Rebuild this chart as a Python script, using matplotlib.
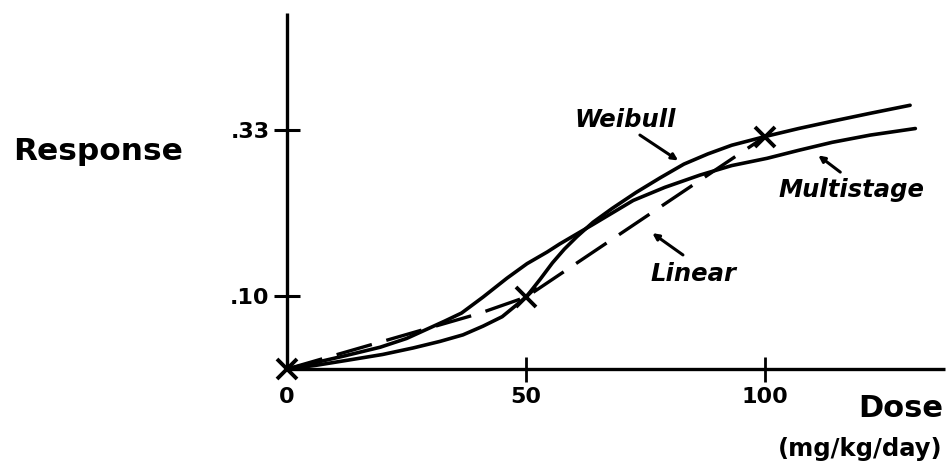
import numpy as np
import matplotlib
matplotlib.use("Agg")
import matplotlib.pyplot as plt

plt.rcParams['font.family'] = ['DejaVu Sans']
plt.rcParams['font.weight'] = 'bold'

# observed dose / response points
obs_dose = [0, 50, 100]
obs_resp = [0, 0.099, 0.32]

# linear model (dashed)
lin_dose = [0, 40, 50, 100]
lin_resp = [0, 0.076, 0.099, 0.32]

# Weibull model
wei_dose = [0, 6, 12.6, 20, 26.4, 32, 36.8, 41, 45, 50, 53, 55.5, 58, 60.6, 64,
            68, 73, 78, 83, 88, 93, 100, 107, 114, 122, 130.3]
wei_resp = [0, 0.005, 0.012, 0.020, 0.029, 0.038, 0.047, 0.059, 0.072, 0.099,
            0.124, 0.146, 0.165, 0.182, 0.202, 0.221, 0.243, 0.263, 0.282,
            0.296, 0.308, 0.32, 0.331, 0.341, 0.352, 0.363]

# multistage model
mul_dose = [0, 5.4, 12, 19.5, 25, 30, 33, 36.5, 41, 46, 50.2, 54.4, 57, 64,
            72.4, 79, 86.4, 93, 100.4, 107, 114, 122, 131.4]
mul_resp = [0, 0.008, 0.018, 0.030, 0.042, 0.057, 0.066, 0.077, 0.099, 0.125,
            0.145, 0.161, 0.172, 0.199, 0.232, 0.250, 0.267, 0.280, 0.290,
            0.301, 0.312, 0.322, 0.331]

x_ticks = [0, 50, 100]
x_ticklabels = ['0', '50', '100']
y_ticks = [0.10, 0.329]
y_ticklabels = ['.10', '.33']

fig = plt.figure(figsize=(9.51, 4.66), dpi=100)
ax = fig.add_axes([287 / 951, 1 - 369 / 466, (945 - 287) / 951, (369 - 13) / 466])
ax.set_xlim(0, 137.6)
ax.set_ylim(0, 0.49)

ax.plot(wei_dose, wei_resp, color='black', lw=2.6, clip_on=False,
        solid_capstyle='round', solid_joinstyle='round')
ax.plot(mul_dose, mul_resp, color='black', lw=2.6, clip_on=False,
        solid_capstyle='round', solid_joinstyle='round')
ax.plot(lin_dose, lin_resp, color='black', lw=2.4, linestyle=(0, (11, 4.5)),
        clip_on=False)
ax.plot(obs_dose, obs_resp, linestyle='none', marker='x', color='black',
        ms=14, mew=2.8, clip_on=False, zorder=5)

for side in ['top', 'right']:
    ax.spines[side].set_visible(False)
for side in ['left', 'bottom']:
    ax.spines[side].set_linewidth(2.4)
    ax.spines[side].set_capstyle('butt')

ax.set_xticks(x_ticks)
ax.set_xticklabels(x_ticklabels, fontsize=16, fontweight='bold')
ax.set_yticks(y_ticks)
ax.set_yticklabels(y_ticklabels, fontsize=16, fontweight='bold')
ax.tick_params(axis='x', direction='inout', length=18, width=2, pad=4)
ax.tick_params(axis='y', direction='inout', length=19, width=2.2, pad=3)
ax.xaxis.get_major_ticks()[0].tick1line.set_visible(False)

# curve labels with pointer arrows
arrow = dict(arrowstyle='-|>', color='black', lw=2.2, mutation_scale=9,
             shrinkA=0, shrinkB=0)
lab = dict(fontsize=17.5, fontweight='bold', fontstyle='italic',
           ha='center', va='baseline')
ax.text(70.7, 0.333, 'Weibull', **lab)
ax.annotate('', xy=(81.8, 0.287), xytext=(73.8, 0.322), arrowprops=arrow)
ax.text(118, 0.237, 'Multistage', **lab)
ax.annotate('', xy=(111.1, 0.294), xytext=(115.7, 0.271), arrowprops=arrow)
ax.text(85.1, 0.121, 'Linear', **lab)
ax.annotate('', xy=(76.4, 0.187), xytext=(82.8, 0.157), arrowprops=arrow)

fig.text(13 / 951, 1 - 160 / 466, 'Response', fontsize=22.5,
         fontweight='bold', ha='left', va='baseline')
fig.text(943 / 951, 1 - 417 / 466, 'Dose', fontsize=22,
         fontweight='bold', ha='right', va='baseline')
fig.text(942 / 951, 1 - 456 / 466, '(mg/kg/day)', fontsize=17.5,
         fontweight='bold', ha='right', va='baseline')

fig.savefig('out.png', dpi=100, facecolor='white')
